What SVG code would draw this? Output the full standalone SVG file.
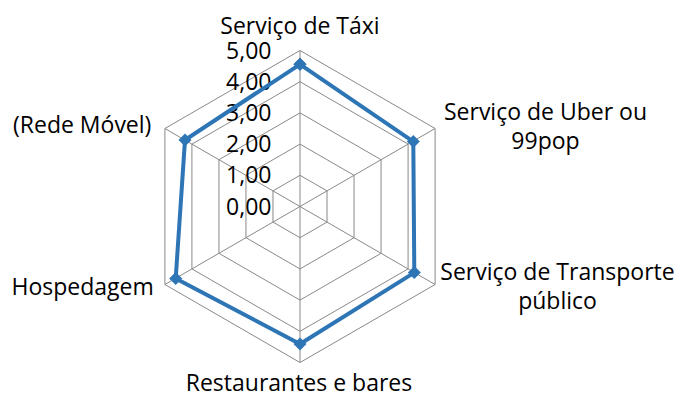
<svg xmlns="http://www.w3.org/2000/svg" width="680" height="396" viewBox="0 0 680 396">
<style>
  .grid { fill: none; stroke: #898989; stroke-width: 1; }
  .t { font-family: "Open Sans", "Noto Sans", "Liberation Sans", sans-serif; font-size: 23px; fill: #000; }
  .tick { text-anchor: end; }
  .mid { text-anchor: middle; }
  .series { fill: none; stroke: #2E75B6; stroke-width: 4; stroke-linejoin: round; }
</style>
<defs>
  <marker id="dia" markerUnits="userSpaceOnUse" markerWidth="14" markerHeight="14" refX="7" refY="7" orient="0" viewBox="0 0 14 14">
    <path d="M7 0.5 L13.5 7 L7 13.5 L0.5 7 Z" fill="#2E75B6"/>
  </marker>
</defs>
<rect width="680" height="396" fill="#fff"/>
<g id="grid">
  <polygon class="grid" points="300,50.5 435.1,128.5 435.1,284.5 300,362.5 164.9,284.5 164.9,128.5"/>
  <polygon class="grid" points="300,81.7 408.08,144.1 408.08,268.9 300,331.3 191.92,268.9 191.92,144.1"/>
  <polygon class="grid" points="300,112.9 381.06,159.7 381.06,253.3 300,300.1 218.94,253.3 218.94,159.7"/>
  <polygon class="grid" points="300,144.1 354.04,175.3 354.04,237.7 300,268.9 245.96,237.7 245.96,175.3"/>
  <polygon class="grid" points="300,175.3 327.02,190.9 327.02,222.1 300,237.7 272.98,222.1 272.98,190.9"/>
  <path class="grid" d="M300 206.5 L300 50.5 M300 206.5 L435.1 128.5 M300 206.5 L435.1 284.5 M300 206.5 L300 362.5 M300 206.5 L164.9 284.5 M300 206.5 L164.9 128.5"/>
</g>
<g id="axis-labels">
  <text class="t tick" x="271.5" y="58.5">5,00</text>
  <text class="t tick" x="271.5" y="89.7">4,00</text>
  <text class="t tick" x="271.5" y="120.9">3,00</text>
  <text class="t tick" x="271.5" y="152.1">2,00</text>
  <text class="t tick" x="271.5" y="183.3">1,00</text>
  <text class="t tick" x="271.5" y="214.5">0,00</text>
</g>
<g id="connectors">
  <polygon id="series" class="series" points="300,64.3 413.3,141.6 414.3,272.6 300,344 175.7,278.5 185,140" marker-start="url(#dia)" marker-mid="url(#dia)" marker-end="url(#dia)"/>
</g>
<g id="node-taxi"><text class="t mid" x="300" y="34">Serviço de Táxi</text></g>
<g id="node-uber"><text class="t mid" x="545.5" y="119.5">Serviço de Uber ou</text><text class="t mid" x="545.5" y="149">99pop</text></g>
<g id="node-transporte"><text class="t mid" x="557.5" y="280">Serviço de Transporte</text><text class="t mid" x="557.5" y="309">público</text></g>
<g id="node-restaurantes"><text class="t mid" x="299" y="390.5">Restaurantes e bares</text></g>
<g id="node-hospedagem"><text class="t" x="11.5" y="295">Hospedagem</text></g>
<g id="node-rede"><text class="t" x="13" y="133">(Rede Móvel)</text></g>
</svg>
